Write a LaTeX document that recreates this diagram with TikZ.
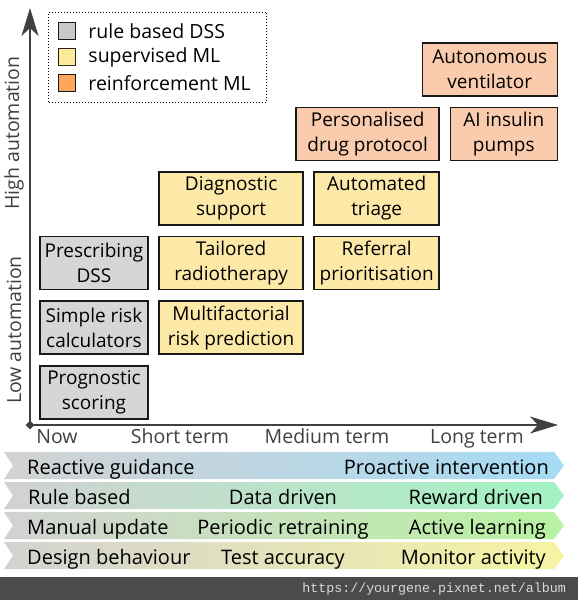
\documentclass[tikz,border=0pt]{standalone}
\usepackage{fontspec}
\setmainfont{Open Sans}
\newfontfamily\urlfont{Liberation Mono}
\usepackage{tikz}
\usetikzlibrary{positioning,arrows.meta,shapes.geometric,patterns}

\definecolor{rulegray}{HTML}{D6D6D6}
\definecolor{supyellow}{HTML}{FCE9A8}
\definecolor{reinforange}{HTML}{FACBAD}
\definecolor{keygray}{HTML}{C8C8C6}
\definecolor{keyyellow}{HTML}{FBF0A0}
\definecolor{keyorange}{HTML}{FFA55C}
\definecolor{axisgray}{HTML}{404040}
\definecolor{footgray}{HTML}{4B4B4B}
\definecolor{bandgray}{HTML}{D2D2D2}
\definecolor{bandblue}{HTML}{A6DBF5}
\definecolor{bandmint}{HTML}{A2F3C2}
\definecolor{bandgreen}{HTML}{B8F2A2}
\definecolor{bandyellow}{HTML}{F6F4A2}

\tikzset{
  tool/.style={draw=black!90, line width=1.6pt, align=center, minimum height=53pt,
    inner sep=1pt, font=\fontsize{19}{25}\selectfont},
  rulebased/.style={tool, fill=rulegray},
  supervised/.style={tool, fill=supyellow},
  reinforcement/.style={tool, fill=reinforange},
  keybox/.style={draw=black!90, line width=1.5pt, minimum size=17pt, inner sep=0pt},
  keytext/.style={anchor=west, inner sep=0pt, font=\fontsize{19.5}{22}\selectfont},
  timelabel/.style={text=axisgray, inner sep=0pt, anchor=base, font=\fontsize{19.5}{22}\selectfont},
  bandtext/.style={inner sep=0pt, font=\fontsize{20}{22}\selectfont},
  axis/.style={draw=axisgray, line width=1.5pt, -{Stealth[length=28pt,width=17pt,inset=8pt]}}
}

\begin{document}
\begin{tikzpicture}[x=1pt,y=-1pt]
  \useasboundingbox (0,0) rectangle (578,600);
  \fill[white] (0,0) rectangle (578,600);

  % the legend
  \node[draw, dotted, line width=1pt, minimum width=218pt, minimum height=90pt] (legend) at (157.5,57) {};
  \node[keybox, fill=keygray] (keyrule) at (67,31) {};
  \node[keytext, right=12pt of keyrule] {rule based DSS};
  \node[keybox, fill=keyyellow, postaction={pattern=dots, pattern color=orange!70}] (keysup) at (67,57) {};
  \node[keytext, right=12pt of keysup] {supervised ML};
  \node[keybox, fill=keyorange] (keyreinf) at (67,83) {};
  \node[keytext, right=12pt of keyreinf] {reinforcement ML};

  % Now the axes
  \node[diamond, fill=axisgray, inner sep=0pt, minimum size=9pt] (origin) at (30,425) {};
  \coordinate (ytop) at (30,8);
  \coordinate (xend) at (558,425);
  \draw[axis] (origin.center) -- (ytop);
  \draw[axis] (origin.center) -- (xend);
  \node[timelabel] (now) at (57,443) {Now};
  \node[timelabel] (short) at (180,443) {Short term};
  \node[timelabel] (medium) at (327,443) {Medium term};
  \node[timelabel] (long) at (477,443) {Long term};
  \node[timelabel, rotate=90, anchor=center] (lowauto) at (14,330) {Low automation};
  \node[timelabel, rotate=90, anchor=center] (highauto) at (14,133) {High automation};

  % rule based column
  \node[rulebased, minimum width=108pt] (prescribing) at (94,263) {Prescribing\\DSS};
  \node[rulebased, minimum width=108pt, below=10pt of prescribing] (riskcalc) {Simple risk\\calculators};
  \node[rulebased, minimum width=108pt, below=10pt of riskcalc] (prognostic) {Prognostic\\scoring};
  % supervised boxes
  \node[supervised, minimum width=144pt, right=9.5pt of prescribing] (radiotherapy) {Tailored\\radiotherapy};
  \node[supervised, minimum width=144pt, above=10pt of radiotherapy] (diagnostic) {Diagnostic\\support};
  \node[supervised, minimum width=144pt, below=10pt of radiotherapy] (multifactorial) {Multifactorial\\risk prediction};
  \node[supervised, minimum width=125pt, right=9.5pt of radiotherapy] (referral) {Referral\\prioritisation};
  \node[supervised, minimum width=125pt, above=10pt of referral] (triage) {Automated\\triage};
  % reinforcement boxes
  \node[reinforcement, minimum width=143pt, above=10pt of triage.north east, anchor=south east] (personalised) {Personalised\\drug protocol};
  \node[reinforcement, minimum width=107pt, right=9.5pt of personalised] (insulin) {AI insulin\\pumps};
  \node[reinforcement, minimum width=135pt, above=10pt of insulin.north east, anchor=south east] (ventilator) {Autonomous\\ventilator};

  % the four bands
  \foreach \yy/\col in {452/bandblue, 482/bandmint, 512/bandgreen, 542/bandyellow}
    \shade[left color=bandgray, right color=\col]
      (4,\yy) -- (554,\yy) -- (564,\yy+13.5) -- (554,\yy+27) -- (4,\yy+27) -- (13,\yy+13.5) -- cycle;
  \node[bandtext, anchor=base west] (reactive) at (27,474) {Reactive guidance};
  \node[bandtext, anchor=base east] (proactive) at (549,474) {Proactive intervention};
  \node[bandtext, anchor=base west] (rulebased) at (28,504) {Rule based};
  \node[bandtext, anchor=base] (datadriven) at (283,504) {Data driven};
  \node[bandtext, anchor=base east] (reward) at (543,504) {Reward driven};
  \node[bandtext, anchor=base west] (manual) at (27,534) {Manual update};
  \node[bandtext, anchor=base] (periodic) at (283,534) {Periodic retraining};
  \node[bandtext, anchor=base east] (active) at (546,534) {Active learning};
  \node[bandtext, anchor=base west] (design) at (27,564) {Design behaviour};
  \node[bandtext, anchor=base] (testacc) at (283,564) {Test accuracy};
  \node[bandtext, anchor=base east] (monitor) at (546,564) {Monitor activity};

  % footer
  \fill[footgray] (0,577) rectangle (578,600);
  \node[anchor=east, text=white!85!black, inner sep=0pt, font=\urlfont\fontsize{13.3}{15}\selectfont] (url) at (566,589) {https://yourgene.pixnet.net/album};
\end{tikzpicture}
\end{document}
